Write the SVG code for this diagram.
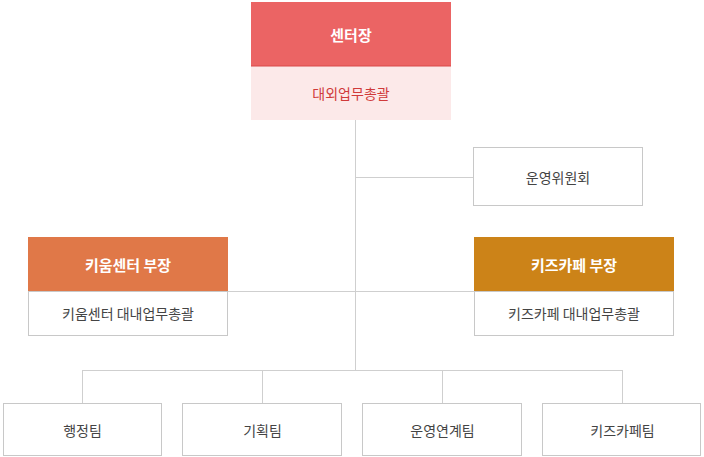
<svg xmlns="http://www.w3.org/2000/svg" width="704" height="457" viewBox="0 0 704 457">
<style>
text{font-family:"Noto Sans CJK KR","Noto Sans",sans-serif;font-size:14px;text-anchor:middle;dominant-baseline:central}
.w{fill:#fff;font-weight:bold;font-size:15px}
.g{fill:#444}
.box{fill:#fff;stroke:#c8c8c8;stroke-width:1}
.ln{stroke:#cfcfcf;stroke-width:1;fill:none}
</style>
<rect width="704" height="457" fill="#fff"/>
<g id="connectors">
<path class="ln" d="M355.5 120V370M355.5 177.5H473M228 291.5H474M82.5 370.5H622.5M82.5 370V403M262.5 370V403M442.5 370V403M622.5 370V403"/>
</g>
<g id="head">
<rect x="251" y="2" width="200" height="64" fill="#eb6464"/>
<rect x="251" y="66" width="200" height="54" fill="#fce9e9"/>
<line x1="251" y1="66" x2="451" y2="66" stroke="#d84848"/>
<text x="351" y="34" class="w" font-size="16">센터장</text>
<text x="351" y="93" fill="#d03a3a" font-size="15">대외업무총괄</text>
</g>
<g id="committee">
<rect class="box" x="473.5" y="147.5" width="169" height="58"/>
<text x="558" y="177" class="g">운영위원회</text>
</g>
<g id="kium">
<rect x="28" y="237" width="200" height="54" fill="#e07848"/>
<rect class="box" x="28.5" y="291.5" width="199" height="44"/>
<text x="128" y="264" class="w">키움센터 부장</text>
<text x="128" y="313" class="g">키움센터 대내업무총괄</text>
</g>
<g id="kids">
<rect x="474" y="237" width="200" height="54" fill="#cc8318"/>
<rect class="box" x="474.5" y="291.5" width="199" height="44"/>
<text x="574" y="264" class="w">키즈카페 부장</text>
<text x="574" y="313" class="g">키즈카페 대내업무총괄</text>
</g>
<g id="t1"><rect class="box" x="3.5" y="403.5" width="158" height="52"/><text x="82.5" y="430" class="g">행정팀</text></g>
<g id="t2"><rect class="box" x="182.5" y="403.5" width="159" height="52"/><text x="262.5" y="430" class="g">기획팀</text></g>
<g id="t3"><rect class="box" x="362.5" y="403.5" width="159" height="52"/><text x="442.5" y="430" class="g">운영연계팀</text></g>
<g id="t4"><rect class="box" x="542.5" y="403.5" width="158" height="52"/><text x="622.5" y="430" class="g">키즈카페팀</text></g>
</svg>
